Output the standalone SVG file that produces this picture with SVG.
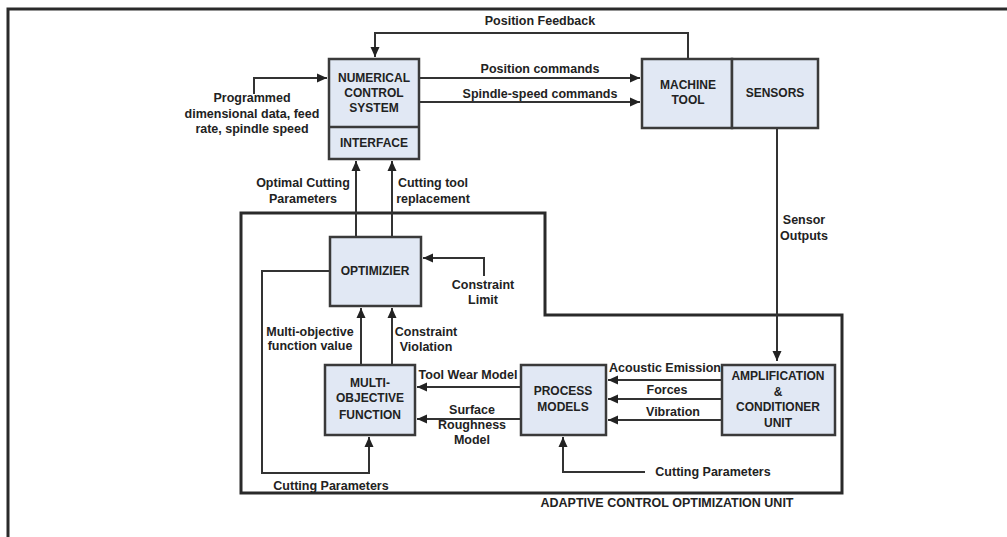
<svg xmlns="http://www.w3.org/2000/svg" width="1007" height="537" viewBox="0 0 1007 537">
<defs>
<marker id="ah" markerUnits="userSpaceOnUse" markerWidth="12" markerHeight="10" refX="10" refY="5" orient="auto">
<path d="M0,0.5 L10,5 L0,9.5 Z" fill="#222"/>
</marker>
<style>
.box{fill:#e1e8f4;stroke:#3a3a3a;stroke-width:2.5}
.t{font-family:"Liberation Sans",Arial,sans-serif;font-weight:bold;font-size:12px;fill:#222;text-anchor:middle}
.l{font-family:"Liberation Sans",Arial,sans-serif;font-weight:bold;font-size:12.5px;fill:#222;text-anchor:middle}
.c{fill:none;stroke:#333;stroke-width:2}
.f{fill:none;stroke:#2a2a2a;stroke-width:3}
</style>
</defs>
<rect width="1007" height="537" fill="#fff"/>
<path class="f" d="M1007,9 H8 V537"/>
<g id="aco-frame">
<path class="f" d="M241,213 H545 V315 H842 V493 H241 Z"/>
<text class="l" x="667" y="507">ADAPTIVE CONTROL OPTIMIZATION UNIT</text>
</g>
<g id="connectors">
<path class="c" d="M688,59 V33 H375 V57" marker-end="url(#ah)"/>
<text class="l" x="540" y="25">Position Feedback</text>
<path class="c" d="M254,94 V78 H327" marker-end="url(#ah)"/>
<text class="l" x="252" y="102">Programmed</text>
<text class="l" x="252" y="118">dimensional data, feed</text>
<text class="l" x="252" y="133">rate, spindle speed</text>
<path class="c" d="M419,78 H640" marker-end="url(#ah)"/>
<text class="l" x="540" y="73">Position commands</text>
<path class="c" d="M419,102 H640" marker-end="url(#ah)"/>
<text class="l" x="540" y="98">Spindle-speed commands</text>
<path class="c" d="M777,128 V361" marker-end="url(#ah)"/>
<text class="l" x="804" y="224">Sensor</text>
<text class="l" x="804" y="240">Outputs</text>
<path class="c" d="M356,237 V161" marker-end="url(#ah)"/>
<path class="c" d="M392,237 V161" marker-end="url(#ah)"/>
<text class="l" x="303" y="187">Optimal Cutting</text>
<text class="l" x="303" y="203">Parameters</text>
<text class="l" x="433" y="187">Cutting tool</text>
<text class="l" x="433" y="203">replacement</text>
<path class="c" d="M484,276 V258 H423" marker-end="url(#ah)"/>
<text class="l" x="483" y="289">Constraint</text>
<text class="l" x="483" y="304">Limit</text>
<path class="c" d="M330,271 H262 V473 H369 V437" marker-end="url(#ah)"/>
<text class="l" x="331" y="490">Cutting Parameters</text>
<path class="c" d="M361,365 V308" marker-end="url(#ah)"/>
<path class="c" d="M392,365 V308" marker-end="url(#ah)"/>
<text class="l" x="310" y="336">Multi-objective</text>
<text class="l" x="310" y="350">function value</text>
<text class="l" x="426" y="336">Constraint</text>
<text class="l" x="426" y="351">Violation</text>
<path class="c" d="M521,387 H417" marker-end="url(#ah)"/>
<text class="l" x="468" y="379">Tool Wear Model</text>
<path class="c" d="M521,419 H417" marker-end="url(#ah)"/>
<text class="l" x="472" y="414">Surface</text>
<text class="l" x="472" y="429">Roughness</text>
<text class="l" x="472" y="444">Model</text>
<path class="c" d="M722,380 H608" marker-end="url(#ah)"/>
<path class="c" d="M722,399 H608" marker-end="url(#ah)"/>
<path class="c" d="M722,420 H608" marker-end="url(#ah)"/>
<text class="l" x="665" y="372">Acoustic Emission</text>
<text class="l" x="667" y="394">Forces</text>
<text class="l" x="673" y="416">Vibration</text>
<path class="c" d="M645,472 H563 V437" marker-end="url(#ah)"/>
<text class="l" x="713" y="476">Cutting Parameters</text>
</g>
<g id="nc-system">
<rect class="box" x="329" y="59" width="90" height="100"/>
<line x1="329" y1="127" x2="419" y2="127" stroke="#3a3a3a" stroke-width="2.5"/>
<text class="t" x="374" y="82">NUMERICAL</text>
<text class="t" x="374" y="97">CONTROL</text>
<text class="t" x="374" y="112">SYSTEM</text>
<text class="t" x="374" y="147">INTERFACE</text>
</g>
<g id="machine-tool">
<rect class="box" x="642" y="59" width="90" height="69"/>
<text class="t" x="688" y="89">MACHINE</text>
<text class="t" x="688" y="104">TOOL</text>
</g>
<g id="sensors">
<rect class="box" x="732" y="59" width="86" height="69"/>
<text class="t" x="775" y="97">SENSORS</text>
</g>
<g id="optimizer">
<rect class="box" x="330" y="237" width="91" height="69"/>
<text class="t" x="375" y="275">OPTIMIZIER</text>
</g>
<g id="multi-objective-function">
<rect class="box" x="325" y="365" width="90" height="70"/>
<text class="t" x="370" y="387">MULTI-</text>
<text class="t" x="370" y="402">OBJECTIVE</text>
<text class="t" x="370" y="419">FUNCTION</text>
</g>
<g id="process-models">
<rect class="box" x="521" y="365" width="85" height="70"/>
<text class="t" x="563" y="395">PROCESS</text>
<text class="t" x="563" y="411">MODELS</text>
</g>
<g id="amplification-unit">
<rect class="box" x="722" y="365" width="113" height="70"/>
<text class="t" x="778" y="380">AMPLIFICATION</text>
<text class="t" x="778" y="396">&amp;</text>
<text class="t" x="778" y="411">CONDITIONER</text>
<text class="t" x="778" y="427">UNIT</text>
</g>
</svg>
